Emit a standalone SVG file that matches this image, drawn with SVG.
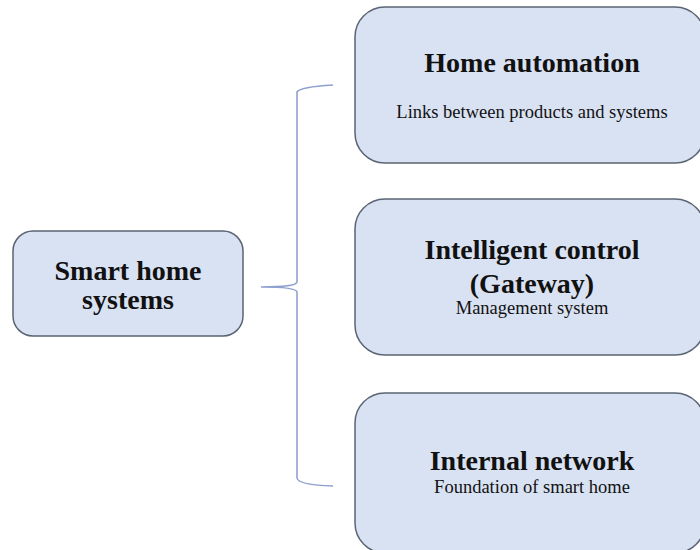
<svg xmlns="http://www.w3.org/2000/svg" width="700" height="550" viewBox="0 0 700 550">
<style>
.box{fill:#d9e2f3;stroke:#5b6472;stroke-width:1.5}
.t{font-family:"Liberation Serif","Times New Roman",serif;fill:#111;text-anchor:middle}
.b{font-weight:bold;font-size:28px}
.s{font-size:18.5px}
.br{fill:none;stroke:#8fa2cf;stroke-width:1.6}
</style>
<rect width="700" height="550" fill="#fff"/>
<g id="connectors">
<path class="br" d="M333,85 Q300,87 297,92 L297,282 Q296,287 261,287 Q296,287 297,292 L297,478 Q298,485 333,486"/>
</g>
<g id="smart-home">
<rect class="box" x="13" y="231" width="230" height="105" rx="20"/>
<text class="t b" x="128" y="280">Smart home</text>
<text class="t b" x="128" y="309">systems</text>
</g>
<g id="home-automation">
<rect class="box" x="355" y="7" width="350" height="156" rx="30"/>
<text class="t b" x="532" y="72">Home automation</text>
<text class="t s" x="532" y="118">Links between products and systems</text>
</g>
<g id="intelligent-control">
<rect class="box" x="355" y="199" width="350" height="156" rx="30"/>
<text class="t b" x="532" y="259">Intelligent control</text>
<text class="t b" x="532" y="293">(Gateway)</text>
<text class="t s" x="532" y="314">Management system</text>
</g>
<g id="internal-network">
<rect class="box" x="355" y="393" width="350" height="160" rx="30"/>
<text class="t b" x="532" y="470">Internal network</text>
<text class="t s" x="532" y="493">Foundation of smart home</text>
</g>
</svg>
